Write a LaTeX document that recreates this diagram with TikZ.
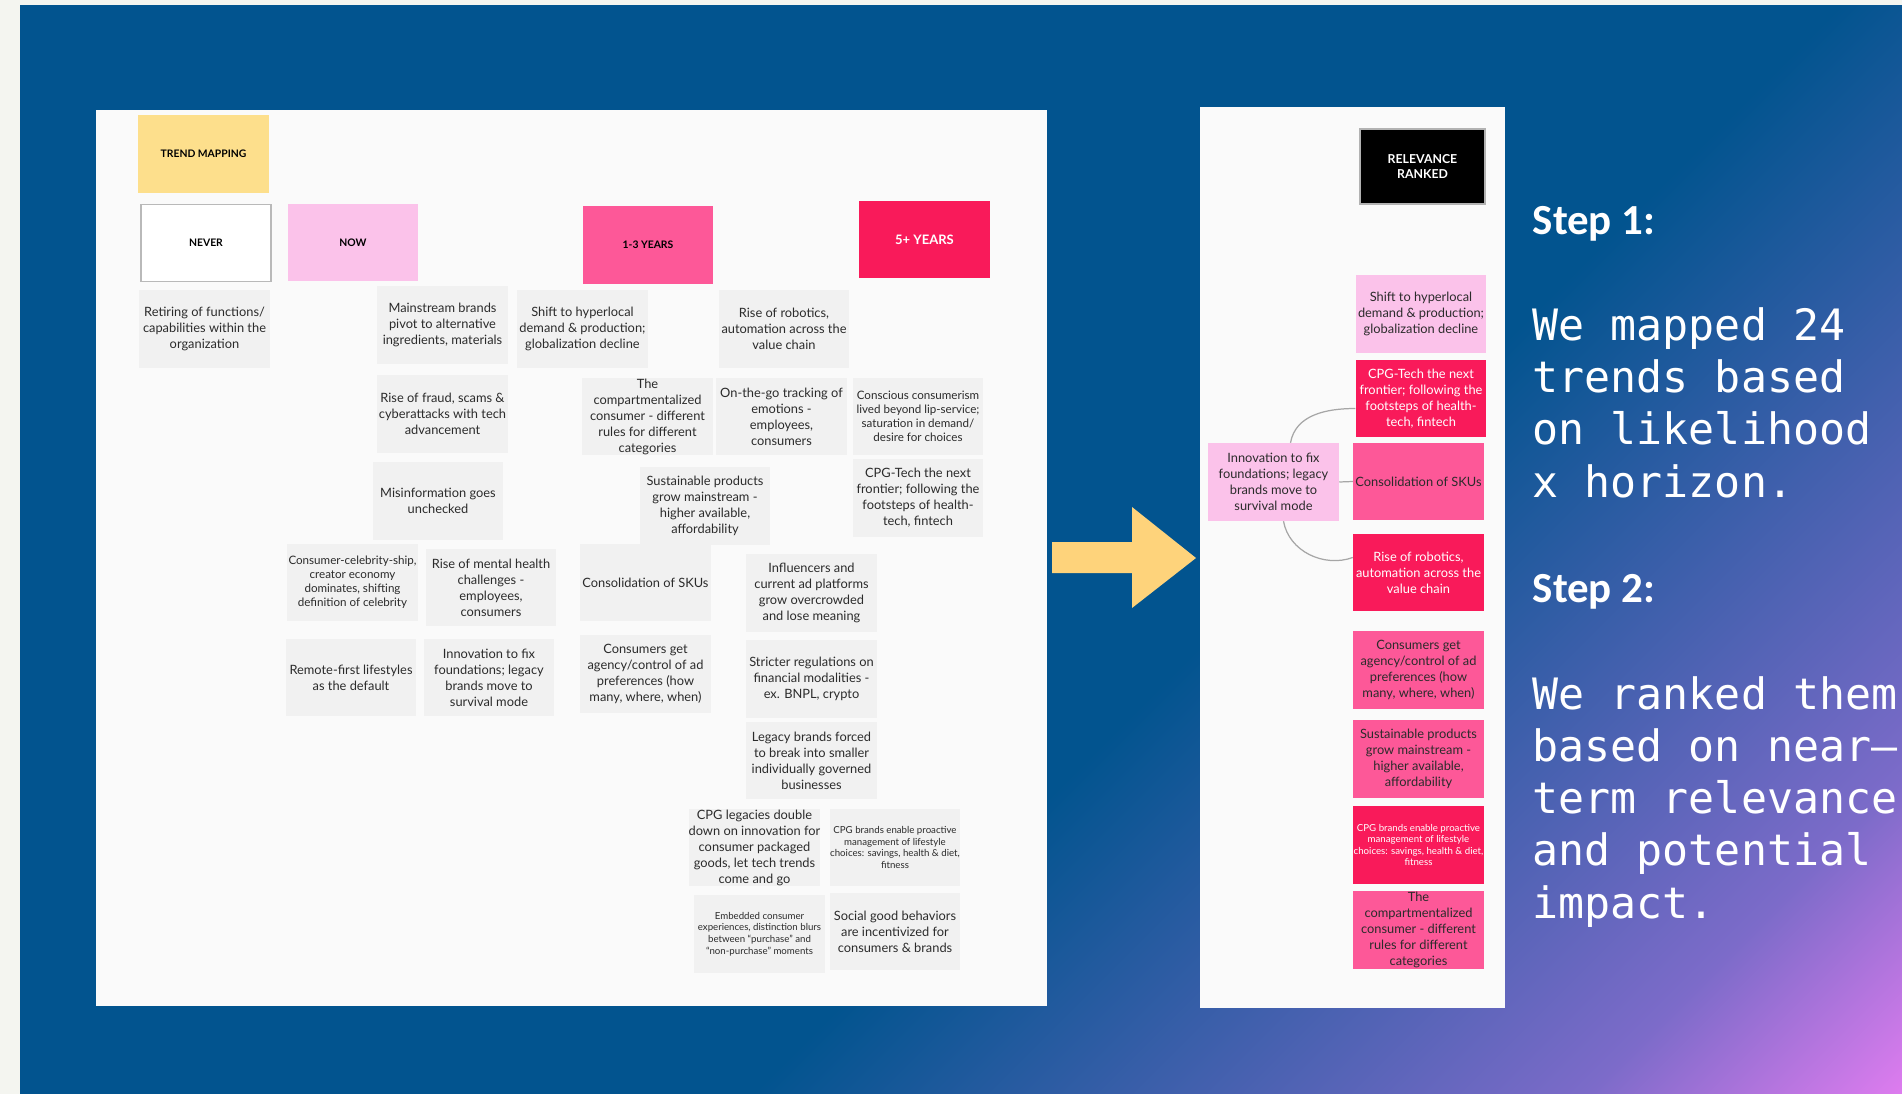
\documentclass[tikz,border=0pt]{standalone}
\usepackage{fontspec}
\newfontfamily\notefont{Lato}
\newfontfamily\stepfont{Carlito}
\newfontfamily\monotext{DejaVu Sans Mono}
\definecolor{bgblue}{HTML}{02548F}
\definecolor{bgpurple}{HTML}{7C6BC9}
\definecolor{bgpink}{HTML}{E47DF1}
\definecolor{paper}{HTML}{F4F5F0}
\definecolor{board}{HTML}{FAFAFA}
\definecolor{notegray}{HTML}{F1F1F1}
\definecolor{noteyellow}{HTML}{FDDF8C}
\definecolor{notelight}{HTML}{FBC2EA}
\definecolor{notehot}{HTML}{FD5898}
\definecolor{notered}{HTML}{F91A5A}
\definecolor{notetext}{HTML}{2B2B2B}
\definecolor{arrowyellow}{HTML}{FED37B}
\pgfdeclarehorizontalshading{bgshade}{100bp}{color(0bp)=(bgblue); color(58bp)=(bgblue); color(78bp)=(bgpurple); color(86bp)=(bgpink); color(100bp)=(bgpink)}

\begin{document}
\begin{tikzpicture}[x=0.01cm, y=-0.01cm,
	note/.style={minimum width=1.3cm, minimum height=0.77cm, inner sep=0pt, align=center, text=notetext, font=\notefont\fontsize{3.65}{4.55}\selectfont},
	graynote/.style={note, fill=notegray},
	smalltext/.style={font=\notefont\fontsize{3.3}{3.95}\selectfont},
	tinytext/.style={font=\notefont\fontsize{2.75}{3.3}\selectfont},
	header/.style={note, font=\notefont\bfseries\fontsize{2.95}{3.6}\selectfont, text=black},
	lightnote/.style={note, fill=notelight},
	hotnote/.style={note, fill=notehot},
	rednote/.style={note, fill=notered, text=white},
	link/.style={draw=gray!70, line width=0.35pt},
	steptext/.style={inner sep=0pt, anchor=base west, text=white, font=\stepfont\bfseries\fontsize{12.2}{14}\selectfont},
	bodytext/.style={inner sep=0pt, anchor=base west, align=left, text=white, font=\monotext\fontsize{12.3}{14.8}\selectfont}
]
	\useasboundingbox[fill=paper] (0, 0) rectangle (1902, 1094);
	\shade[shading=bgshade, shading angle=-45] (20, 6) rectangle (1902, 1094);
	\fill[board] (96, 110) rectangle (1047, 1006);
	\fill[board] (1200, 107) rectangle (1505, 1008);
	\fill[arrowyellow] (1052, 542) -- (1132, 542) -- (1132, 507) -- (1196, 558) -- (1132, 608) -- (1132, 573) -- (1052, 573) -- cycle;

	\node[header, fill=noteyellow] (trend) at (203.5, 154) {TREND MAPPING};
	\node[header, fill=white, draw=gray!55, line width=0.4pt] (never) at (206, 243) {NEVER};
	\node[header, fill=notelight] (now) at (353, 242.5) {NOW};
	\node[header, fill=notehot] (soon) at (648, 245) {1-3 YEARS};
	\node[header, fill=notered, text=white, font=\notefont\bfseries\fontsize{3.7}{4.4}\selectfont] (later) at (924.5, 239.5) {5+ YEARS};

	\node[graynote] (retiring) at (204.5, 329) {Retiring of functions/\\capabilities within the\\organization};
	\node[graynote] (mainstream) at (442.5, 325) {Mainstream brands\\pivot to alternative\\ingredients, materials};
	\node[graynote] (hyperlocal) at (582.5, 329) {Shift to hyperlocal\\demand \& production;\\globalization decline};
	\node[graynote] (robotics) at (784, 329) {Rise of robotics,\\automation across the\\value chain};
	\node[graynote] (fraud) at (442.5, 414) {Rise of fraud, scams \&\\cyberattacks with tech\\advancement};
	\node[graynote] (compart) at (647.5, 416.5) {The\\compartmentalized\\consumer - different\\rules for different\\categories};
	\node[graynote] (onthego) at (781.5, 416.5) {On-the-go tracking of\\emotions -\\employees,\\consumers};
	\node[graynote, smalltext] (conscious) at (918, 416.5) {Conscious consumerism\\lived beyond lip-service;\\saturation in demand/\\desire for choices};
	\node[graynote] (misinfo) at (438, 501) {Misinformation goes\\unchecked};
	\node[graynote] (sustain) at (705, 506) {Sustainable products\\grow mainstream -\\higher available,\\affordability};
	\node[graynote] (cpgtech) at (918, 498) {CPG-Tech the next\\frontier; following the\\footsteps of health-\\tech, fintech};
	\node[graynote, smalltext] (celeb) at (352.5, 582.5) {Consumer-celebrity-ship,\\creator economy\\dominates, shifting\\definition of celebrity};
	\node[graynote] (mental) at (491, 587.5) {Rise of mental health\\challenges -\\employees,\\consumers};
	\node[graynote] (skus) at (645.5, 582.5) {Consolidation of SKUs};
	\node[graynote] (influencers) at (811.5, 593) {Influencers and\\current ad platforms\\grow overcrowded\\and lose meaning};
	\node[graynote] (remote) at (351, 677.5) {Remote-first lifestyles\\as the default};
	\node[graynote] (innovation) at (489, 677.5) {Innovation to fix\\foundations; legacy\\brands move to\\survival mode};
	\node[graynote] (agency) at (645.5, 674) {Consumers get\\agency/control of ad\\preferences (how\\many, where, when)};
	\node[graynote] (regulation) at (811.5, 679) {Stricter regulations on\\financial modalities -\\ex. BNPL, crypto};
	\node[graynote] (breakup) at (811.5, 760.5) {Legacy brands forced\\to break into smaller\\individually governed\\businesses};
	\node[graynote] (legacies) at (754.5, 847.5) {CPG legacies double\\down on innovation for\\consumer packaged\\goods, let tech trends\\come and go};
	\node[graynote, tinytext] (lifestyle) at (895, 847.5) {CPG brands enable proactive\\management of lifestyle\\choices: savings, health \& diet,\\fitness};
	\node[graynote, tinytext] (embedded) at (759.5, 934) {Embedded consumer\\experiences, distinction blurs\\between “purchase” and\\“non-purchase” moments};
	\node[graynote] (socialgood) at (895, 931.5) {Social good behaviors\\are incentivized for\\consumers \& brands};

	\node[header, fill=black, text=white, draw=gray!60, line width=0.4pt, minimum width=1.25cm, minimum height=0.75cm, font=\notefont\bfseries\fontsize{3.5}{4.3}\selectfont] (ranked) at (1422.5, 166.5) {RELEVANCE\\RANKED};
	\node[lightnote] (rHyperlocal) at (1421, 314) {Shift to hyperlocal\\demand \& production;\\globalization decline};
	\node[rednote] (rCpgtech) at (1421, 398.5) {CPG-Tech the next\\frontier; following the\\footsteps of health-\\tech, fintech};
	\node[lightnote] (rInnovation) at (1273.5, 482) {Innovation to fix\\foundations; legacy\\brands move to\\survival mode};
	\node[hotnote] (rSkus) at (1418.5, 481.5) {Consolidation of SKUs};
	\node[rednote] (rRobotics) at (1418.5, 572.5) {Rise of robotics,\\automation across the\\value chain};
	\node[hotnote] (rAgency) at (1418.5, 670) {Consumers get\\agency/control of ad\\preferences (how\\many, where, when)};
	\node[hotnote] (rSustain) at (1418.5, 759) {Sustainable products\\grow mainstream -\\higher available,\\affordability};
	\node[rednote, tinytext] (rLifestyle) at (1418.5, 845) {CPG brands enable proactive\\management of lifestyle\\choices: savings, health \& diet,\\fitness};
	\node[hotnote] (rCompart) at (1418.5, 930) {The\\compartmentalized\\consumer - different\\rules for different\\categories};

	\draw[link] ([xshift=0.17cm]rInnovation.north) to[out=80, in=180] ([yshift=-0.1cm]rCpgtech.west);
	\draw[link] (rInnovation.east) -- (rSkus.west);
	\draw[link] ([xshift=0.1cm]rInnovation.south) to[out=-80, in=200] ([yshift=0.15cm]rRobotics.west);

	\node[steptext] (step1) at (1532, 235) {Step 1:};
	\node[bodytext] (body1) at (1532, 497) {We mapped 24\\trends based\\on likelihood\\x horizon.};
	\node[steptext] (step2) at (1532, 602) {Step 2:};
	\node[bodytext] (body2) at (1532, 918) {We ranked them\\based on near—\\term relevance\\and potential\\impact.};
\end{tikzpicture}
\end{document}
